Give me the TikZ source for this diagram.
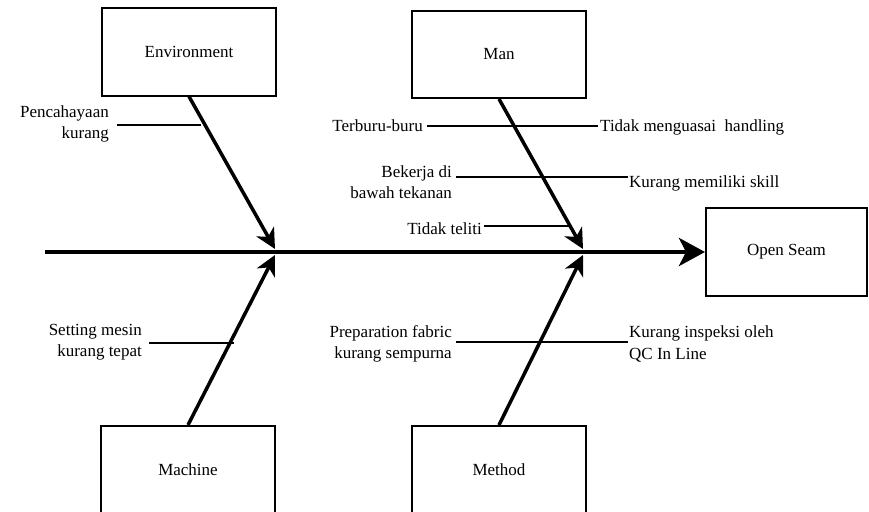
\documentclass[tikz,border=0pt]{standalone}
\usepackage{fontspec}
\setmainfont{Liberation Serif}
\usetikzlibrary{arrows.meta}
\begin{document}
\begin{tikzpicture}[x=1pt,y=-1pt,
  catbox/.style={draw=black, line width=2pt, minimum width=174pt, minimum height=87pt, inner sep=0pt, font=\fontsize{17}{21}\selectfont},
  lbl/.style={font=\fontsize{17}{21.5}\selectfont, inner sep=0pt},
  spine/.style={line width=4.5pt, -{Stealth[length=26pt,width=28pt,inset=7pt]}},
  rib/.style={line width=3.5pt, -{Stealth[length=20pt,width=20pt,inset=6pt]}},
  twig/.style={line width=2pt}]
\useasboundingbox (0,0) rectangle (869,511);
% boxes
\node[catbox] (env) at (189,52) {Environment};
\node[catbox] (man) at (499,54.5) {Man};
\node[catbox] (mac) at (188,469.5) {Machine};
\node[catbox] (met) at (499,469.5) {Method};
\node[catbox, minimum width=161pt, minimum height=88pt] (seam) at (786.5,252) {Open Seam};
% spine
\coordinate (tail) at (45,252);
\draw[spine] (tail) -- (seam.west);
% ribs
\coordinate (j1t) at (275,249);
\coordinate (j1b) at (275,255);
\coordinate (j2t) at (583,249);
\coordinate (j2b) at (583,255);
\draw[rib] (env.south) -- (j1t);
\draw[rib] (mac.north) -- (j1b);
\draw[rib] (man.south) -- (j2t);
\draw[rib] (met.north) -- (j2b);
% Environment causes
\node[lbl, anchor=east, align=right] (pc) at (109,124) {Pencahayaan\\kurang};
\coordinate (pcA) at (117,125); \coordinate (pcB) at (201,125);
\draw[twig] (pcA) -- (pcB);
% Man causes
\node[lbl, anchor=east] (tb) at (423,126) {Terburu-buru};
\node[lbl, anchor=west] (tm) at (600,127) {Tidak menguasai\ \ handling};
\draw[twig] (tb.east) ++(4,0) coordinate (tbA) -- (598,126) coordinate (tbB);
\node[lbl, anchor=east, align=right] (bk) at (452,182) {Bekerja di\\bawah tekanan};
\node[lbl, anchor=west] (km) at (629,183) {Kurang memiliki skill};
\coordinate (bkA) at (456,177); \coordinate (bkB) at (628,177);
\draw[twig] (bkA) -- (bkB);
\node[lbl, anchor=east] (tt) at (482,229) {Tidak teliti};
\coordinate (ttA) at (484,226); \coordinate (ttB) at (571,226);
\draw[twig] (ttA) -- (ttB);
% Machine causes
\node[lbl, anchor=east, align=right] (sm) at (142,342) {Setting mesin\\kurang tepat};
\coordinate (smA) at (149,343); \coordinate (smB) at (234,343);
\draw[twig] (smA) -- (smB);
% Method causes
\node[lbl, anchor=east, align=right] (pf) at (452,344) {Preparation fabric\\kurang sempurna};
\node[lbl, anchor=west, align=left] (ki) at (629,344) {Kurang inspeksi oleh\\QC In Line};
\coordinate (pfA) at (456,342); \coordinate (pfB) at (628,342);
\draw[twig] (pfA) -- (pfB);
\end{tikzpicture}
\end{document}
